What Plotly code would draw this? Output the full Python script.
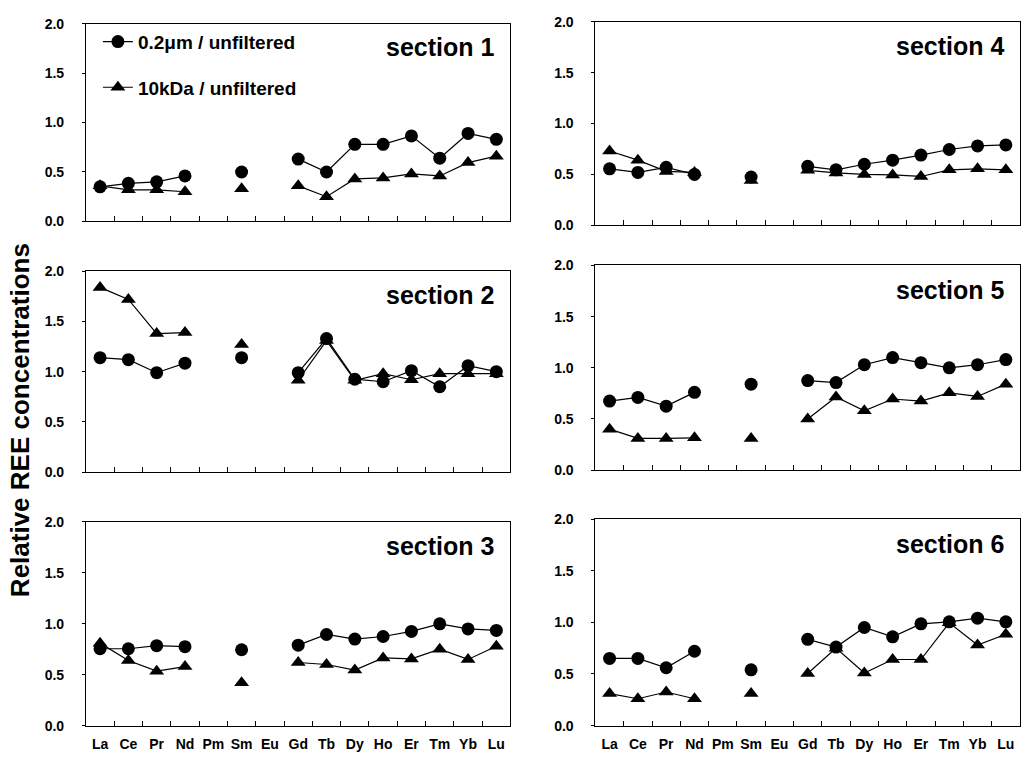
import plotly.graph_objects as go

# ---------------- data ----------------
elements = ["La", "Ce", "Pr", "Nd", "Pm", "Sm", "Eu", "Gd", "Tb", "Dy", "Ho", "Er", "Tm", "Yb", "Lu"]
y_tick_vals = [0.0, 0.5, 1.0, 1.5, 2.0]
series_names = ["0.2\u03bcm / unfiltered", "10kDa / unfiltered"]
section_names = ["section 1", "section 2", "section 3", "section 4", "section 5", "section 6"]

# 0.2um / unfiltered (circles)
s1_02 = [0.35, 0.385, 0.40, 0.46, None, 0.50, None, 0.63, 0.50, 0.78, 0.78, 0.865, 0.64, 0.89, 0.83]
s2_02 = [1.14, 1.12, 0.99, 1.085, None, 1.14, None, 0.99, 1.33, 0.925, 0.90, 1.01, 0.85, 1.06, 1.00]
s3_02 = [0.755, 0.755, 0.785, 0.775, None, 0.745, None, 0.79, 0.895, 0.85, 0.875, 0.925, 1.00, 0.95, 0.935]
s4_02 = [0.555, 0.52, 0.57, 0.50, None, 0.475, None, 0.58, 0.545, 0.60, 0.64, 0.69, 0.745, 0.78, 0.79]
s5_02 = [0.675, 0.71, 0.625, 0.76, None, 0.84, None, 0.875, 0.855, 1.03, 1.10, 1.05, 1.00, 1.03, 1.08]
s6_02 = [0.65, 0.65, 0.56, 0.72, None, 0.54, None, 0.835, 0.76, 0.95, 0.86, 0.985, 1.005, 1.04, 1.005]

# 10kDa / unfiltered (triangles)
s1_10 = [0.36, 0.32, 0.32, 0.30, None, 0.33, None, 0.36, 0.25, 0.43, 0.44, 0.48, 0.46, 0.595, 0.66]
s2_10 = [1.84, 1.72, 1.38, 1.39, None, 1.27, None, 0.915, 1.31, 0.915, 0.98, 0.92, 0.98, 0.98, 0.98]
s3_10 = [0.81, 0.64, 0.535, 0.58, None, 0.42, None, 0.62, 0.60, 0.545, 0.665, 0.655, 0.75, 0.65, 0.78]
s4_10 = [0.73, 0.64, 0.53, 0.52, None, 0.44, None, 0.54, 0.515, 0.50, 0.495, 0.48, 0.545, 0.555, 0.545]
s5_10 = [0.40, 0.31, 0.31, 0.315, None, 0.31, None, 0.50, 0.715, 0.58, 0.695, 0.675, 0.755, 0.72, 0.84]
s6_10 = [0.31, 0.26, 0.325, 0.26, None, 0.31, None, 0.505, 0.75, 0.51, 0.64, 0.64, 0.995, 0.78, 0.885]

sections = [
    (s1_02, s1_10), (s2_02, s2_10), (s3_02, s3_10),
    (s4_02, s4_10), (s5_02, s5_10), (s6_02, s6_10),
]

# ---------------- layout geometry ----------------
W, H = 1021, 762
FONT = "Liberation Sans, Arial, sans-serif"

def xdom(l, r):
    return [l / W, min(r / W, 1.0)]

def ydom(top, bot):
    return [1 - bot / H, 1 - top / H]

panel_geo = {
    0: (xdom(86, 511), ydom(16, 218), False),    # section 1
    1: (xdom(86, 511), ydom(269, 474), False),   # section 2
    2: (xdom(86, 511), ydom(525, 733), True),    # section 3
    3: (xdom(596, 1022), ydom(14, 222), False),  # section 4
    4: (xdom(596, 1022), ydom(263, 472), False), # section 5
    5: (xdom(596, 1022), ydom(522, 733), True),  # section 6
}

fig = go.Figure()
line_style = dict(color="black", width=1.2)

for i, (v02, v10) in enumerate(sections):
    ax = "" if i == 0 else str(i + 1)
    show = i == 0
    fig.add_trace(go.Scatter(
        x=elements, y=v10, mode="lines+markers", name=series_names[1],
        line=line_style, connectgaps=False,
        marker=dict(symbol="triangle-up", size=13, color="black"),
        xaxis="x" + ax, yaxis="y" + ax, showlegend=show,
        legendgroup="b", legendrank=2,
    ))
    fig.add_trace(go.Scatter(
        x=elements, y=v02, mode="lines+markers", name=series_names[0],
        line=line_style, connectgaps=False,
        marker=dict(symbol="circle", size=13, color="black"),
        xaxis="x" + ax, yaxis="y" + ax, showlegend=show,
        legendgroup="a", legendrank=1,
    ))

layout = dict(
    width=W, height=H, autosize=False,
    margin=dict(l=0, r=0, t=0, b=0),
    paper_bgcolor="white", plot_bgcolor="white",
    font=dict(family=FONT, color="black"),
    showlegend=True,
    legend=dict(
        x=98 / W, y=1 - 15 / H, xanchor="left", yanchor="top",
        bgcolor="rgba(0,0,0,0)", borderwidth=0,
        font=dict(family=FONT, size=19, color="black", weight="bold"),
        tracegroupgap=18, traceorder="grouped",
    ),
)

annotations = []
for i in range(6):
    xd, yd, bottom = panel_geo[i]
    ax = "" if i == 0 else str(i + 1)
    layout["xaxis" + ax] = dict(
        domain=xd, anchor="y" + ax, type="category",
        categoryorder="array", categoryarray=elements,
        range=[-0.5, len(elements) - 0.5],
        showline=True, mirror=True, linecolor="black", linewidth=1,
        showgrid=False, zeroline=False,
        ticks="inside", ticklen=5, tickcolor="black", tickwidth=1,
        tickson="boundaries", tickangle=0,
        showticklabels=bottom,
        tickfont=dict(family=FONT, size=14, color="black", weight="bold"),
        ticklabelstandoff=6,
    )
    layout["yaxis" + ax] = dict(
        domain=yd, anchor="x" + ax,
        range=[0, 2], tickvals=y_tick_vals, tickformat=".1f",
        showline=True, mirror=True, linecolor="black", linewidth=1,
        showgrid=False, zeroline=False,
        ticks="outside", ticklen=3, tickcolor="black", tickwidth=1,
        tickfont=dict(family=FONT, size=14, color="black", weight="bold"),
        ticklabelstandoff=15,
    )
    annotations.append(dict(
        text=section_names[i], xref="x" + ax + " domain", yref="y" + ax + " domain",
        x=0.967, y=0.88, xanchor="right", yanchor="middle", showarrow=False,
        font=dict(family=FONT, size=25, color="black", weight="bold"),
    ))

annotations.append(dict(
    text="Relative REE concentrations", xref="paper", yref="paper",
    x=20 / W, y=1 - 421 / H, xanchor="center", yanchor="middle",
    textangle=-90, showarrow=False,
    font=dict(family=FONT, size=26, color="black", weight="bold"),
))
layout["annotations"] = annotations

fig.update_layout(**layout)
fig.write_html("out.html")
